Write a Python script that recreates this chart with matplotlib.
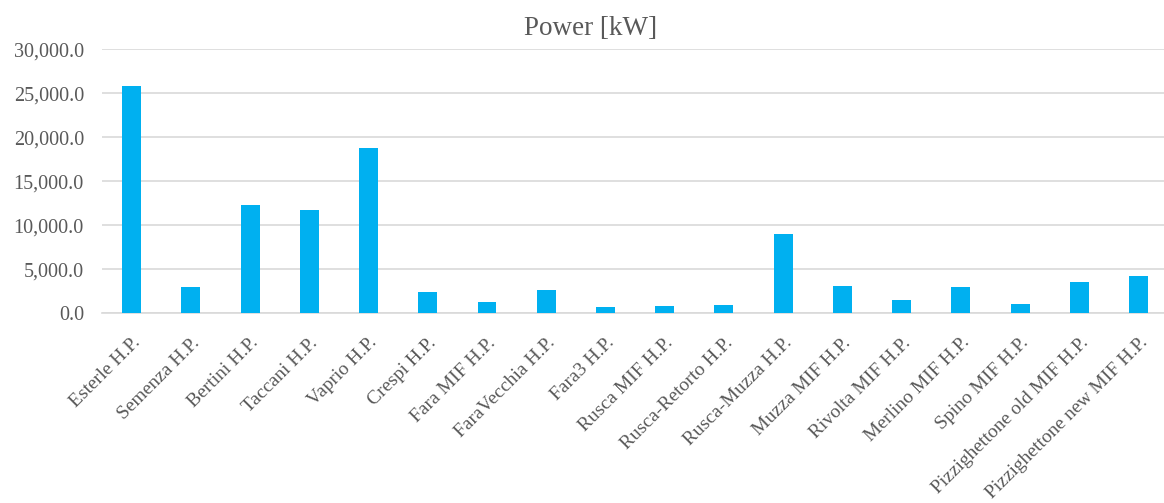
import matplotlib.pyplot as plt
from matplotlib.ticker import FuncFormatter

plants = ["Esterle H.P.", "Semenza H.P.", "Bertini H.P.", "Taccani H.P.", "Vaprio H.P.",
          "Crespi H.P.", "Fara MIF H.P.", "FaraVecchia H.P.", "Fara3 H.P.", "Rusca MIF H.P.",
          "Rusca-Retorto H.P.", "Rusca-Muzza H.P.", "Muzza MIF H.P.", "Rivolta MIF H.P.",
          "Merlino MIF H.P.", "Spino MIF H.P.", "Pizzighettone old MIF H.P.",
          "Pizzighettone new MIF H.P."]
power_kw = [25800, 3000, 12300, 11700, 18800, 2400, 1300, 2600, 700, 800,
            1000, 9000, 3100, 1500, 3000, 1100, 3550, 4200]
yticks = [0, 5000, 10000, 15000, 20000, 25000, 30000]

plt.rcParams['font.family'] = ['Liberation Serif', 'DejaVu Serif']
grey = '#595959'

fig = plt.figure(figsize=(11.64, 5.03), dpi=100)
ax = fig.add_axes([0.0876, 0.377, 0.916, 0.525])

x = range(len(plants))
ax.bar(x, power_kw, width=0.32, color='#00b0f0', zorder=3)

ax.set_xlim(-0.5, len(plants) - 0.5)
ax.set_ylim(0, 30000)
ax.set_yticks(yticks)
ax.yaxis.set_major_formatter(FuncFormatter(lambda v, p: f"{v:,.1f}"))
ax.grid(axis='y', color='#d9d9d9', linewidth=1.2, zorder=0)
ax.set_axisbelow(True)
for s in ['top', 'right', 'left']:
    ax.spines[s].set_visible(False)
ax.spines['bottom'].set_color('#d9d9d9')
ax.spines['bottom'].set_linewidth(1.2)

ax.set_xticks(list(x))
ax.set_xticklabels(plants, rotation=45, ha='right', va='top', rotation_mode='anchor')
ax.tick_params(axis='both', length=0, labelcolor=grey)
ax.tick_params(axis='x', labelsize=14, pad=15)
ax.tick_params(axis='y', labelsize=14.5, pad=13)

fig.text(0.507, 0.943, "Power [kW]", ha='center', va='center', fontsize=19.5, color=grey)

fig.savefig('out.png', dpi=100)
